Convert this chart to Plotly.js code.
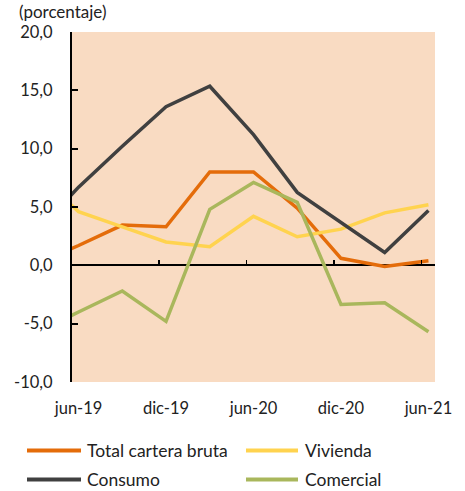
<!DOCTYPE html>
<html>
<head>
<meta charset="utf-8">
<script src="https://cdn.plot.ly/plotly-3.0.1.min.js"></script>
<style>html,body{margin:0;padding:0;background:#fff;}#chart{width:465px;height:491px;}</style>
</head>
<body>
<div id="chart"></div>
<script>
// Quarters (index -1 = mar-19, only its edge is visible at the left axis)
const periods = ["mar-19","jun-19","sep-19","dic-19","mar-20","jun-20","sep-20","dic-20","mar-21","jun-21"];
const periodIndex = [-1,0,1,2,3,4,5,6,7,8];
const tickLabels = ["jun-19","dic-19","jun-20","dic-20","jun-21"];
const tickIndex = [0,2,4,6,8];
const yTicks = [-10,-5,0,5,10,15,20];
const yTickLabels = ["-10,0","-5,0","0,0","5,0","10,0","15,0","20,0"];

const totalCartera = [0.1, 1.7, 3.45, 3.3, 8.0, 8.0, 4.9, 0.6, -0.1, 0.4];
const vivienda     = [8.0, 4.6, 3.3, 2.0, 1.6, 4.2, 2.45, 3.1, 4.5, 5.2];
const consumo      = [2.7, 6.7, 10.2, 13.6, 15.35, 11.2, 6.25, 3.7, 1.1, 4.7];
const comercial    = [-5.9, -4.0, -2.2, -4.8, 4.8, 7.1, 5.4, -3.35, -3.2, -5.7];

const seriesNames = ["Total cartera bruta","Vivienda","Consumo","Comercial"];
const seriesData = [totalCartera, vivienda, consumo, comercial];
const colors = ["#E46C0A","#FFD34F","#404040","#A9B75C"];

const FONT = "Lato, 'Open Sans', sans-serif";

const traces = seriesData.map((d,i)=>({
  type:"scatter", mode:"lines", name:seriesNames[i],
  x: periodIndex, y: d, text: periods,
  line:{color:colors[i], width:3.5},
  showlegend:false, hoverinfo:"skip"
}));

// Custom legend (lines + texts) in paper coordinates
const W = 465, H = 491, L = 72, R = 30, T = 32, B = 109;
const pw = W-L-R, ph = H-T-B;
const px = v => (v-L)/pw;
const py = v => (H-B-v)/ph;
const legendPos = [
  {x0:27, x1:81, tx:85, y:450.5},
  {x0:246, x1:298, tx:303, y:450.5},
  {x0:27, x1:81, tx:85, y:479.5},
  {x0:246, x1:298, tx:303, y:479.5}
];
const shapes = legendPos.map((p,i)=>({
  type:"line", xref:"paper", yref:"paper",
  x0:px(p.x0), x1:px(p.x1), y0:py(p.y), y1:py(p.y),
  line:{color:colors[i], width:4}
}));
const annotations = legendPos.map((p,i)=>({
  xref:"paper", yref:"paper", x:px(p.tx), y:py(p.y),
  xanchor:"left", yanchor:"middle", showarrow:false,
  text:seriesNames[i], font:{family:FONT, size:17.5, color:"#222"}
}));
annotations.push({
  xref:"paper", yref:"paper", x:px(17), y:py(12),
  xanchor:"left", yanchor:"middle", showarrow:false,
  text:"(porcentaje)", font:{family:FONT, size:17, color:"#222"}
});

const layout = {
  width:W, height:H,
  margin:{l:L, r:R, t:T, b:B},
  paper_bgcolor:"#ffffff",
  plot_bgcolor:"#F9DBC2",
  font:{family:FONT, size:16.5, color:"#222"},
  xaxis:{
    range:[-0.15, 8.15],
    tickmode:"array", tickvals:tickIndex, ticktext:tickLabels,
    ticks:"", showline:false, showgrid:false, zeroline:false,
    tickfont:{family:FONT, size:16.5, color:"#222"},
    ticklabelstandoff:14
  },
  xaxis2:{
    overlaying:"x", anchor:"free", position:1/3,
    range:[-0.15, 8.15],
    tickmode:"array", tickvals:[1.84,3.84,5.84,7.84],
    showticklabels:false, ticks:"inside", ticklen:5, tickwidth:1.5, tickcolor:"#000",
    showline:false, showgrid:false, zeroline:false
  },
  yaxis:{
    range:[-10, 20], tickmode:"array", tickvals:yTicks, ticktext:yTickLabels,
    showline:false,
    ticks:"outside", ticklen:15, tickwidth:1, tickcolor:"rgba(0,0,0,0)",
    showgrid:false, zeroline:true, zerolinecolor:"#000", zerolinewidth:2,
    tickfont:{family:FONT, size:16.5, color:"#222"}
  },
  yaxis2:{
    overlaying:"y", anchor:"x", side:"left",
    range:[-10, 20], tickmode:"array", tickvals:yTicks,
    showticklabels:false,
    showline:true, linecolor:"#000", linewidth:2,
    ticks:"inside", ticklen:6, tickwidth:2, tickcolor:"#000",
    showgrid:false, zeroline:false
  },
  shapes:shapes,
  annotations:annotations
};

traces.push({type:"scatter", mode:"lines", x:[], y:[], xaxis:"x2", yaxis:"y", showlegend:false, hoverinfo:"skip"});
traces.push({type:"scatter", mode:"lines", x:[], y:[], xaxis:"x", yaxis:"y2", showlegend:false, hoverinfo:"skip"});

Plotly.newPlot("chart", traces, layout, {staticPlot:true, displayModeBar:false});
</script>
</body>
</html>
